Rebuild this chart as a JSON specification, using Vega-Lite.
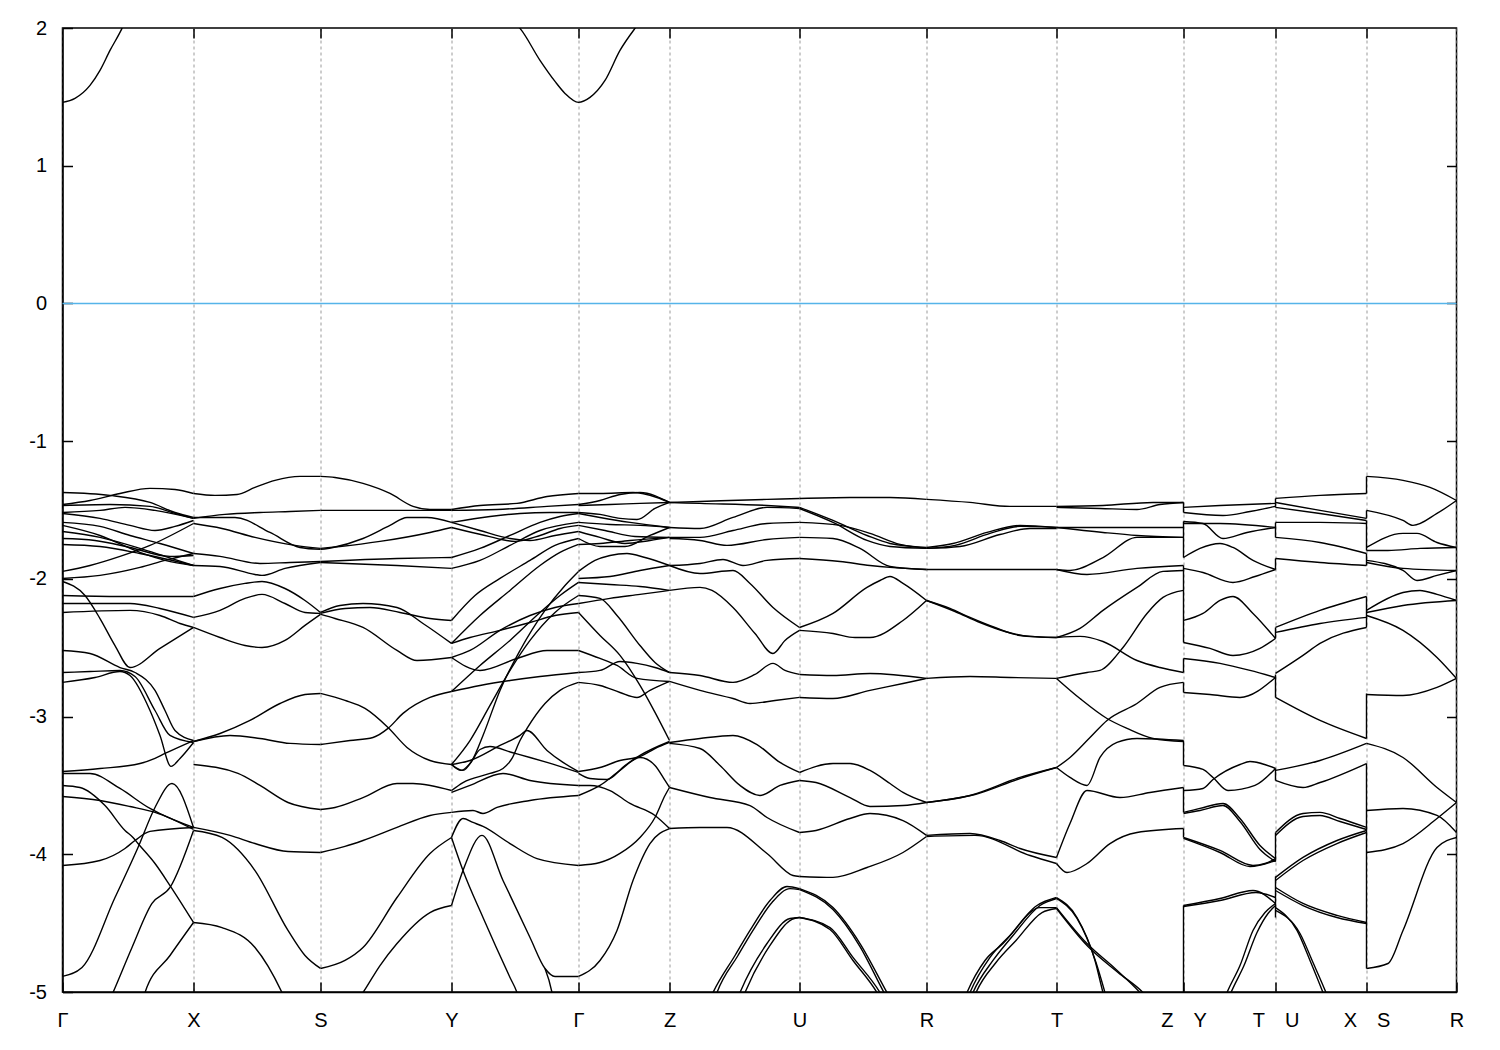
{
"$schema": "https://vega.github.io/schema/vega-lite/v6.json",
"width": 1394, "height": 964,
"autosize": {"type": "none"},
"padding": {"left": 62.5, "top": 28, "right": 43.5, "bottom": 58},
"background": "white",
"config": {"view": {"stroke": "black", "strokeWidth": 1.5}},
"datasets": {
"bands": [
{"s":"c1","k":0,"E":1.46},{"s":"c1","k":0.125,"E":1.489},{"s":"c1","k":0.275,"E":1.583},{"s":"c1","k":0.375,"E":1.692},{"s":"c1","k":0.475,"E":1.837},{"s":"c1","k":0.595,"E":1.997},{"s":"c1","k":0.675,"E":2.13},
{"s":"c2","k":4.425,"E":2.09},{"s":"c2","k":4.575,"E":1.997},{"s":"c2","k":4.775,"E":1.765},{"s":"c2","k":4.925,"E":1.612},{"s":"c2","k":5.025,"E":1.525},{"s":"c2","k":5.16,"E":1.46},{"s":"c2","k":5.275,"E":1.496},{"s":"c2","k":5.425,"E":1.619},{"s":"c2","k":5.575,"E":1.837},{"s":"c2","k":5.725,"E":1.997},{"s":"c2","k":5.875,"E":2.13},
{"s":"1a","k":0,"E":-1.373},{"s":"1a","k":0.475,"E":-1.394},{"s":"1a","k":0.875,"E":-1.445},{"s":"1a","k":1.125,"E":-1.518},{"s":"1a","k":1.31,"E":-1.554},
{"s":"1b","k":0,"E":-1.46},{"s":"1b","k":0.275,"E":-1.431},{"s":"1b","k":0.575,"E":-1.38},{"s":"1b","k":0.875,"E":-1.343},{"s":"1b","k":1.125,"E":-1.351},{"s":"1b","k":1.31,"E":-1.38},
{"s":"1c","k":0,"E":-1.467},{"s":"1c","k":0.475,"E":-1.46},{"s":"1c","k":0.875,"E":-1.474},{"s":"1c","k":1.125,"E":-1.525},{"s":"1c","k":1.31,"E":-1.561},
{"s":"1d","k":0,"E":-1.518},{"s":"1d","k":0.375,"E":-1.503},{"s":"1d","k":0.625,"E":-1.481},{"s":"1d","k":0.925,"E":-1.503},{"s":"1d","k":1.31,"E":-1.561},
{"s":"1e","k":0,"E":-1.525},{"s":"1e","k":0.375,"E":-1.561},{"s":"1e","k":0.675,"E":-1.612},{"s":"1e","k":0.925,"E":-1.649},{"s":"1e","k":1.125,"E":-1.619},{"s":"1e","k":1.31,"E":-1.576},
{"s":"1f","k":0,"E":-1.59},{"s":"1f","k":0.375,"E":-1.619},{"s":"1f","k":0.675,"E":-1.685},{"s":"1f","k":0.975,"E":-1.743},{"s":"1f","k":1.31,"E":-1.816},
{"s":"1g","k":0,"E":-1.612},{"s":"1g","k":0.375,"E":-1.685},{"s":"1g","k":0.775,"E":-1.808},{"s":"1g","k":1.025,"E":-1.866},{"s":"1g","k":1.31,"E":-1.903},
{"s":"1h","k":0,"E":-1.946},{"s":"1h","k":0.275,"E":-1.903},{"s":"1h","k":0.575,"E":-1.837},{"s":"1h","k":0.875,"E":-1.757},{"s":"1h","k":1.31,"E":-1.598},
{"s":"1i","k":0,"E":-1.997},{"s":"1i","k":0.375,"E":-1.975},{"s":"1i","k":0.775,"E":-1.917},{"s":"1i","k":1.025,"E":-1.866},{"s":"1i","k":1.31,"E":-1.816},
{"s":"1j","k":0,"E":-2.019},{"s":"1j","k":0.225,"E":-2.121},{"s":"1j","k":0.375,"E":-2.288},{"s":"1j","k":0.525,"E":-2.484},{"s":"1j","k":0.675,"E":-2.644},{"s":"1j","k":0.975,"E":-2.505},{"s":"1j","k":1.31,"E":-2.353},
{"s":"1k","k":0,"E":-2.121},{"s":"1k","k":0.575,"E":-2.128},{"s":"1k","k":1.31,"E":-2.128},
{"s":"1l","k":0,"E":-2.179},{"s":"1l","k":0.675,"E":-2.179},{"s":"1l","k":0.975,"E":-2.215},{"s":"1l","k":1.31,"E":-2.28},
{"s":"1m","k":0,"E":-2.244},{"s":"1m","k":0.675,"E":-2.229},{"s":"1m","k":0.975,"E":-2.266},{"s":"1m","k":1.175,"E":-2.324},{"s":"1m","k":1.31,"E":-2.353},
{"s":"1n","k":0,"E":-1.656},{"s":"1n","k":0.375,"E":-1.699},{"s":"1n","k":0.775,"E":-1.779},{"s":"1n","k":1.025,"E":-1.837},{"s":"1n","k":1.31,"E":-1.903},
{"s":"1o","k":0,"E":-1.707},{"s":"1o","k":0.325,"E":-1.721},{"s":"1o","k":0.675,"E":-1.772},{"s":"1o","k":1.075,"E":-1.837},{"s":"1o","k":1.31,"E":-1.83},
{"s":"1p","k":0,"E":-1.75},{"s":"1p","k":0.375,"E":-1.765},{"s":"1p","k":0.775,"E":-1.816},{"s":"1p","k":1.31,"E":-1.903},
{"s":"1q","k":0,"E":-2.52},{"s":"1q","k":0.275,"E":-2.542},{"s":"1q","k":0.575,"E":-2.644},{"s":"1q","k":0.725,"E":-2.68},{"s":"1q","k":0.925,"E":-2.81},{"s":"1q","k":1.025,"E":-2.956},{"s":"1q","k":1.125,"E":-3.101},{"s":"1q","k":1.31,"E":-3.174},
{"s":"1r","k":0,"E":-2.68},{"s":"1r","k":0.275,"E":-2.673},{"s":"1r","k":0.575,"E":-2.665},{"s":"1r","k":0.725,"E":-2.709},{"s":"1r","k":0.925,"E":-2.956},{"s":"1r","k":1.075,"E":-3.137},{"s":"1r","k":1.31,"E":-3.188},
{"s":"1s","k":0,"E":-2.752},{"s":"1s","k":0.325,"E":-2.716},{"s":"1s","k":0.575,"E":-2.673},{"s":"1s","k":0.675,"E":-2.702},{"s":"1s","k":0.875,"E":-2.956},{"s":"1s","k":0.975,"E":-3.137},{"s":"1s","k":1.085,"E":-3.362},{"s":"1s","k":1.175,"E":-3.304},{"s":"1s","k":1.31,"E":-3.188},
{"s":"1t","k":0,"E":-3.399},{"s":"1t","k":0.375,"E":-3.377},{"s":"1t","k":0.775,"E":-3.341},{"s":"1t","k":0.925,"E":-3.304},{"s":"1t","k":1.025,"E":-3.268},{"s":"1t","k":1.31,"E":-3.174},
{"s":"1u","k":0,"E":-3.413},{"s":"1u","k":0.275,"E":-3.413},{"s":"1u","k":0.575,"E":-3.522},{"s":"1u","k":0.875,"E":-3.667},{"s":"1u","k":0.975,"E":-3.704},{"s":"1u","k":1.31,"E":-3.805},
{"s":"1v","k":0,"E":-3.5},{"s":"1v","k":0.175,"E":-3.515},{"s":"1v","k":0.425,"E":-3.646},{"s":"1v","k":0.625,"E":-3.827},{"s":"1v","k":0.705,"E":-3.878},{"s":"1v","k":0.755,"E":-3.922},{"s":"1v","k":0.925,"E":-4.067},{"s":"1v","k":1.075,"E":-4.227},{"s":"1v","k":1.31,"E":-4.495},
{"s":"1w","k":0,"E":-3.58},{"s":"1w","k":0.375,"E":-3.609},{"s":"1w","k":0.675,"E":-3.653},{"s":"1w","k":0.925,"E":-3.696},{"s":"1w","k":1.31,"E":-3.82},
{"s":"1x","k":0,"E":-4.081},{"s":"1x","k":0.375,"E":-4.045},{"s":"1x","k":0.625,"E":-3.958},{"s":"1x","k":0.725,"E":-3.9},{"s":"1x","k":0.875,"E":-3.834},{"s":"1x","k":1.31,"E":-3.805},
{"s":"1y","k":0,"E":-4.887},{"s":"1y","k":0.195,"E":-4.822},{"s":"1y","k":0.525,"E":-4.314},{"s":"1y","k":0.755,"E":-3.951},{"s":"1y","k":0.925,"E":-3.66},{"s":"1y","k":1.095,"E":-3.486},{"s":"1y","k":1.31,"E":-3.805},
{"s":"1z","k":0.425,"E":-5.134},{"s":"1z","k":0.505,"E":-5.004},{"s":"1z","k":0.695,"E":-4.677},{"s":"1z","k":0.895,"E":-4.357},{"s":"1z","k":1.075,"E":-4.241},{"s":"1z","k":1.31,"E":-3.827},
{"s":"1A","k":0.775,"E":-5.134},{"s":"1A","k":0.825,"E":-5.004},{"s":"1A","k":1.075,"E":-4.735},{"s":"1A","k":1.31,"E":-4.495},
{"s":"2a","k":1.31,"E":-1.38},{"s":"2a","k":1.525,"E":-1.394},{"s":"2a","k":1.745,"E":-1.387},{"s":"2a","k":1.925,"E":-1.336},{"s":"2a","k":2.125,"E":-1.285},{"s":"2a","k":2.375,"E":-1.256},{"s":"2a","k":2.58,"E":-1.256},
{"s":"2b","k":1.31,"E":-1.561},{"s":"2b","k":1.625,"E":-1.532},{"s":"2b","k":1.975,"E":-1.518},{"s":"2b","k":2.275,"E":-1.511},{"s":"2b","k":2.58,"E":-1.503},
{"s":"2c","k":1.31,"E":-1.554},{"s":"2c","k":1.725,"E":-1.554},{"s":"2c","k":2.075,"E":-1.663},{"s":"2c","k":2.375,"E":-1.772},{"s":"2c","k":2.58,"E":-1.786},
{"s":"2d","k":1.31,"E":-1.598},{"s":"2d","k":1.595,"E":-1.634},{"s":"2d","k":1.925,"E":-1.699},{"s":"2d","k":2.325,"E":-1.757},{"s":"2d","k":2.58,"E":-1.779},
{"s":"2e","k":1.31,"E":-1.816},{"s":"2e","k":1.575,"E":-1.837},{"s":"2e","k":1.975,"E":-1.888},{"s":"2e","k":2.275,"E":-1.881},{"s":"2e","k":2.58,"E":-1.874},
{"s":"2f","k":1.31,"E":-1.903},{"s":"2f","k":1.575,"E":-1.91},{"s":"2f","k":1.925,"E":-1.968},{"s":"2f","k":1.995,"E":-1.975},{"s":"2f","k":2.225,"E":-1.924},{"s":"2f","k":2.58,"E":-1.881},
{"s":"2g","k":1.31,"E":-2.128},{"s":"2g","k":1.575,"E":-2.07},{"s":"2g","k":1.825,"E":-2.033},{"s":"2g","k":1.995,"E":-2.019},{"s":"2g","k":2.225,"E":-2.07},{"s":"2g","k":2.425,"E":-2.157},{"s":"2g","k":2.58,"E":-2.244},
{"s":"2h","k":1.31,"E":-2.28},{"s":"2h","k":1.575,"E":-2.229},{"s":"2h","k":1.825,"E":-2.142},{"s":"2h","k":1.995,"E":-2.113},{"s":"2h","k":2.225,"E":-2.179},{"s":"2h","k":2.425,"E":-2.244},{"s":"2h","k":2.58,"E":-2.251},
{"s":"2i","k":1.31,"E":-2.353},{"s":"2i","k":1.575,"E":-2.426},{"s":"2i","k":1.825,"E":-2.484},{"s":"2i","k":1.995,"E":-2.498},{"s":"2i","k":2.225,"E":-2.447},{"s":"2i","k":2.425,"E":-2.338},{"s":"2i","k":2.58,"E":-2.258},
{"s":"2j","k":1.31,"E":-3.181},{"s":"2j","k":1.575,"E":-3.123},{"s":"2j","k":1.875,"E":-3.028},{"s":"2j","k":2.175,"E":-2.905},{"s":"2j","k":2.425,"E":-2.84},{"s":"2j","k":2.58,"E":-2.832},
{"s":"2k","k":1.31,"E":-3.181},{"s":"2k","k":1.675,"E":-3.137},{"s":"2k","k":1.975,"E":-3.159},{"s":"2k","k":2.275,"E":-3.195},{"s":"2k","k":2.58,"E":-3.203},
{"s":"2l","k":1.31,"E":-3.348},{"s":"2l","k":1.755,"E":-3.413},{"s":"2l","k":1.975,"E":-3.5},{"s":"2l","k":2.255,"E":-3.624},{"s":"2l","k":2.58,"E":-3.675},
{"s":"2m","k":1.31,"E":-3.805},{"s":"2m","k":1.675,"E":-3.863},{"s":"2m","k":1.925,"E":-3.922},{"s":"2m","k":2.255,"E":-3.98},{"s":"2m","k":2.58,"E":-3.987},
{"s":"2n","k":1.31,"E":-3.827},{"s":"2n","k":1.595,"E":-3.878},{"s":"2n","k":1.925,"E":-4.118},{"s":"2n","k":2.255,"E":-4.553},{"s":"2n","k":2.425,"E":-4.735},{"s":"2n","k":2.58,"E":-4.829},
{"s":"2o","k":1.31,"E":-4.495},{"s":"2o","k":1.595,"E":-4.532},{"s":"2o","k":1.925,"E":-4.677},{"s":"2o","k":2.195,"E":-5.004},{"s":"2o","k":2.275,"E":-5.134},
{"s":"3a","k":2.58,"E":-1.256},{"s":"3a","k":2.725,"E":-1.264},{"s":"3a","k":3.005,"E":-1.307},{"s":"3a","k":3.275,"E":-1.38},{"s":"3a","k":3.505,"E":-1.474},{"s":"3a","k":3.675,"E":-1.496},{"s":"3a","k":3.89,"E":-1.496},
{"s":"3b","k":2.58,"E":-1.503},{"s":"3b","k":2.975,"E":-1.503},{"s":"3b","k":3.375,"E":-1.503},{"s":"3b","k":3.89,"E":-1.503},
{"s":"3c","k":2.58,"E":-1.786},{"s":"3c","k":2.705,"E":-1.772},{"s":"3c","k":3.005,"E":-1.707},{"s":"3c","k":3.275,"E":-1.612},{"s":"3c","k":3.445,"E":-1.554},{"s":"3c","k":3.645,"E":-1.554},{"s":"3c","k":3.89,"E":-1.59},
{"s":"3d","k":2.58,"E":-1.779},{"s":"3d","k":2.775,"E":-1.765},{"s":"3d","k":3.175,"E":-1.728},{"s":"3d","k":3.675,"E":-1.663},{"s":"3d","k":3.89,"E":-1.627},
{"s":"3e","k":2.58,"E":-1.874},{"s":"3e","k":3.345,"E":-1.852},{"s":"3e","k":3.89,"E":-1.845},
{"s":"3f","k":2.58,"E":-1.881},{"s":"3f","k":3.345,"E":-1.903},{"s":"3f","k":3.89,"E":-1.924},
{"s":"3g","k":2.58,"E":-2.251},{"s":"3g","k":2.825,"E":-2.215},{"s":"3g","k":3.075,"E":-2.208},{"s":"3g","k":3.375,"E":-2.244},{"s":"3g","k":3.675,"E":-2.288},{"s":"3g","k":3.89,"E":-2.302},
{"s":"3h","k":2.58,"E":-2.244},{"s":"3h","k":2.775,"E":-2.193},{"s":"3h","k":3.005,"E":-2.179},{"s":"3h","k":3.345,"E":-2.208},{"s":"3h","k":3.605,"E":-2.324},{"s":"3h","k":3.89,"E":-2.469},
{"s":"3i","k":2.58,"E":-2.258},{"s":"3i","k":2.725,"E":-2.288},{"s":"3i","k":3.005,"E":-2.353},{"s":"3i","k":3.345,"E":-2.52},{"s":"3i","k":3.545,"E":-2.593},{"s":"3i","k":3.89,"E":-2.571},
{"s":"3j","k":2.58,"E":-2.832},{"s":"3j","k":2.825,"E":-2.883},{"s":"3j","k":3.025,"E":-2.941},{"s":"3j","k":3.255,"E":-3.079},{"s":"3j","k":3.445,"E":-3.224},{"s":"3j","k":3.675,"E":-3.319},{"s":"3j","k":3.89,"E":-3.348},
{"s":"3k","k":2.58,"E":-3.203},{"s":"3k","k":2.875,"E":-3.174},{"s":"3k","k":3.105,"E":-3.152},{"s":"3k","k":3.255,"E":-3.086},{"s":"3k","k":3.405,"E":-2.977},{"s":"3k","k":3.675,"E":-2.861},{"s":"3k","k":3.89,"E":-2.818},
{"s":"3l","k":2.58,"E":-3.675},{"s":"3l","k":2.725,"E":-3.66},{"s":"3l","k":3.005,"E":-3.588},{"s":"3l","k":3.345,"E":-3.486},{"s":"3l","k":3.505,"E":-3.486},{"s":"3l","k":3.89,"E":-3.537},
{"s":"3m","k":2.58,"E":-3.987},{"s":"3m","k":2.825,"E":-3.943},{"s":"3m","k":3.005,"E":-3.9},{"s":"3m","k":3.345,"E":-3.805},{"s":"3m","k":3.675,"E":-3.718},{"s":"3m","k":3.89,"E":-3.696},
{"s":"3n","k":2.58,"E":-4.829},{"s":"3n","k":2.825,"E":-4.771},{"s":"3n","k":3.005,"E":-4.677},{"s":"3n","k":3.345,"E":-4.314},{"s":"3n","k":3.675,"E":-3.994},{"s":"3n","k":3.89,"E":-3.878},
{"s":"3o","k":2.875,"E":-5.134},{"s":"3o","k":3.005,"E":-5.004},{"s":"3o","k":3.175,"E":-4.808},{"s":"3o","k":3.345,"E":-4.648},{"s":"3o","k":3.675,"E":-4.423},{"s":"3o","k":3.89,"E":-4.372},
{"s":"4a","k":3.89,"E":-1.496},{"s":"4a","k":4.175,"E":-1.467},{"s":"4a","k":4.545,"E":-1.452},{"s":"4a","k":4.845,"E":-1.402},{"s":"4a","k":5.16,"E":-1.38},
{"s":"4b","k":3.89,"E":-1.503},{"s":"4b","k":4.345,"E":-1.496},{"s":"4b","k":4.845,"E":-1.474},{"s":"4b","k":5.16,"E":-1.46},
{"s":"4c","k":3.89,"E":-1.59},{"s":"4c","k":4.275,"E":-1.547},{"s":"4c","k":4.575,"E":-1.525},{"s":"4c","k":4.875,"E":-1.518},{"s":"4c","k":5.16,"E":-1.518},
{"s":"4d","k":3.89,"E":-1.59},{"s":"4d","k":4.175,"E":-1.649},{"s":"4d","k":4.475,"E":-1.707},{"s":"4d","k":4.675,"E":-1.721},{"s":"4d","k":4.925,"E":-1.685},{"s":"4d","k":5.16,"E":-1.656},
{"s":"4e","k":3.89,"E":-1.627},{"s":"4e","k":4.225,"E":-1.685},{"s":"4e","k":4.525,"E":-1.728},{"s":"4e","k":4.775,"E":-1.685},{"s":"4e","k":4.975,"E":-1.634},{"s":"4e","k":5.16,"E":-1.612},
{"s":"4f","k":3.89,"E":-1.845},{"s":"4f","k":4.175,"E":-1.779},{"s":"4f","k":4.475,"E":-1.685},{"s":"4f","k":4.775,"E":-1.59},{"s":"4f","k":4.975,"E":-1.547},{"s":"4f","k":5.16,"E":-1.525},
{"s":"4g","k":3.89,"E":-1.924},{"s":"4g","k":4.175,"E":-1.866},{"s":"4g","k":4.475,"E":-1.757},{"s":"4g","k":4.775,"E":-1.649},{"s":"4g","k":5.16,"E":-1.59},
{"s":"4h","k":3.89,"E":-2.302},{"s":"4h","k":4.125,"E":-2.121},{"s":"4h","k":4.375,"E":-1.997},{"s":"4h","k":4.675,"E":-1.866},{"s":"4h","k":4.925,"E":-1.757},{"s":"4h","k":5.16,"E":-1.707},
{"s":"4i","k":3.89,"E":-2.469},{"s":"4i","k":4.175,"E":-2.266},{"s":"4i","k":4.475,"E":-2.084},{"s":"4i","k":4.775,"E":-1.903},{"s":"4i","k":4.975,"E":-1.808},{"s":"4i","k":5.16,"E":-1.75},
{"s":"4j","k":3.89,"E":-2.571},{"s":"4j","k":4.175,"E":-2.665},{"s":"4j","k":4.545,"E":-2.578},{"s":"4j","k":4.845,"E":-2.52},{"s":"4j","k":5.16,"E":-2.52},
{"s":"4k","k":3.89,"E":-2.818},{"s":"4k","k":4.175,"E":-2.629},{"s":"4k","k":4.475,"E":-2.447},{"s":"4k","k":4.775,"E":-2.244},{"s":"4k","k":4.975,"E":-2.121},{"s":"4k","k":5.16,"E":-2.026},
{"s":"4l","k":3.89,"E":-3.348},{"s":"4l","k":4.005,"E":-3.391},{"s":"4l","k":4.095,"E":-3.319},{"s":"4l","k":4.205,"E":-3.137},{"s":"4l","k":4.375,"E":-2.81},{"s":"4l","k":4.575,"E":-2.52},{"s":"4l","k":4.825,"E":-2.229},{"s":"4l","k":5.025,"E":-2.048},{"s":"4l","k":5.16,"E":-1.946},
{"s":"4m","k":3.89,"E":-3.348},{"s":"4m","k":3.985,"E":-3.391},{"s":"4m","k":4.075,"E":-3.341},{"s":"4m","k":4.175,"E":-3.239},{"s":"4m","k":4.275,"E":-3.217},{"s":"4m","k":4.495,"E":-3.261},{"s":"4m","k":4.675,"E":-3.297},{"s":"4m","k":4.845,"E":-3.333},{"s":"4m","k":5.16,"E":-3.406},
{"s":"4n","k":3.89,"E":-3.696},{"s":"4n","k":4.105,"E":-3.682},{"s":"4n","k":4.205,"E":-3.704},{"s":"4n","k":4.345,"E":-3.66},{"s":"4n","k":4.675,"E":-3.609},{"s":"4n","k":5.16,"E":-3.573},
{"s":"4o","k":3.89,"E":-3.537},{"s":"4o","k":4.005,"E":-3.479},{"s":"4o","k":4.275,"E":-3.413},{"s":"4o","k":4.405,"E":-3.377},{"s":"4o","k":4.495,"E":-3.304},{"s":"4o","k":4.575,"E":-3.174},{"s":"4o","k":4.645,"E":-3.086},{"s":"4o","k":4.825,"E":-2.905},{"s":"4o","k":4.975,"E":-2.81},{"s":"4o","k":5.16,"E":-2.752},
{"s":"4p","k":3.89,"E":-3.348},{"s":"4p","k":4.075,"E":-3.319},{"s":"4p","k":4.375,"E":-3.21},{"s":"4p","k":4.575,"E":-3.137},{"s":"4p","k":4.645,"E":-3.101},{"s":"4p","k":4.845,"E":-3.246},{"s":"4p","k":5.005,"E":-3.333},{"s":"4p","k":5.16,"E":-3.399},
{"s":"4q","k":3.89,"E":-3.551},{"s":"4q","k":4.075,"E":-3.5},{"s":"4q","k":4.405,"E":-3.413},{"s":"4q","k":4.675,"E":-3.464},{"s":"4q","k":5.16,"E":-3.5},
{"s":"4r","k":3.89,"E":-3.878},{"s":"4r","k":4.005,"E":-3.74},{"s":"4r","k":4.105,"E":-3.769},{"s":"4r","k":4.205,"E":-3.798},{"s":"4r","k":4.475,"E":-3.922},{"s":"4r","k":4.745,"E":-4.031},{"s":"4r","k":5.16,"E":-4.081},
{"s":"4s","k":3.89,"E":-3.878},{"s":"4s","k":4.005,"E":-4.118},{"s":"4s","k":4.205,"E":-4.459},{"s":"4s","k":4.475,"E":-4.895},{"s":"4s","k":4.545,"E":-5.004},{"s":"4s","k":4.595,"E":-5.134},
{"s":"4t","k":3.89,"E":-4.372},{"s":"4t","k":4.005,"E":-4.118},{"s":"4t","k":4.195,"E":-3.863},{"s":"4t","k":4.405,"E":-4.19},{"s":"4t","k":4.675,"E":-4.604},{"s":"4t","k":4.825,"E":-4.829},{"s":"4t","k":4.925,"E":-4.887},{"s":"4t","k":5.16,"E":-4.887},
{"s":"4u","k":4.825,"E":-4.829},{"s":"4u","k":4.895,"E":-5.004},{"s":"4u","k":4.925,"E":-5.134},
{"s":"4v","k":3.89,"E":-2.818},{"s":"4v","k":4.175,"E":-2.774},{"s":"4v","k":4.475,"E":-2.738},{"s":"4v","k":4.775,"E":-2.709},{"s":"4v","k":5.16,"E":-2.68},
{"s":"4w","k":3.89,"E":-2.469},{"s":"4w","k":4.075,"E":-2.426},{"s":"4w","k":4.375,"E":-2.374},{"s":"4w","k":4.675,"E":-2.317},{"s":"4w","k":4.925,"E":-2.266},{"s":"4w","k":5.16,"E":-2.244},
{"s":"4x","k":3.89,"E":-2.571},{"s":"4x","k":4.075,"E":-2.52},{"s":"4x","k":4.375,"E":-2.374},{"s":"4x","k":4.675,"E":-2.266},{"s":"4x","k":4.925,"E":-2.208},{"s":"4x","k":5.16,"E":-2.179},
{"s":"4y","k":3.89,"E":-3.348},{"s":"4y","k":4.075,"E":-3.174},{"s":"4y","k":4.275,"E":-2.919},{"s":"4y","k":4.475,"E":-2.665},{"s":"4y","k":4.675,"E":-2.447},{"s":"4y","k":4.925,"E":-2.244},{"s":"4y","k":5.16,"E":-2.121},
{"s":"5a","k":5.16,"E":-1.38},{"s":"5a","k":5.375,"E":-1.38},{"s":"5a","k":5.705,"E":-1.373},{"s":"5a","k":5.945,"E":-1.409},{"s":"5a","k":6.07,"E":-1.445},
{"s":"5b","k":5.16,"E":-1.46},{"s":"5b","k":5.375,"E":-1.431},{"s":"5b","k":5.575,"E":-1.387},{"s":"5b","k":5.775,"E":-1.373},{"s":"5b","k":6.07,"E":-1.445},
{"s":"5c","k":5.16,"E":-1.467},{"s":"5c","k":5.475,"E":-1.46},{"s":"5c","k":5.775,"E":-1.452},{"s":"5c","k":6.07,"E":-1.445},
{"s":"5d","k":5.16,"E":-1.518},{"s":"5d","k":5.375,"E":-1.532},{"s":"5d","k":5.575,"E":-1.561},{"s":"5d","k":5.745,"E":-1.569},{"s":"5d","k":5.925,"E":-1.489},{"s":"5d","k":6.07,"E":-1.445},
{"s":"5e","k":5.16,"E":-1.525},{"s":"5e","k":5.375,"E":-1.554},{"s":"5e","k":5.675,"E":-1.59},{"s":"5e","k":6.07,"E":-1.627},
{"s":"5f","k":5.16,"E":-1.59},{"s":"5f","k":5.475,"E":-1.605},{"s":"5f","k":5.775,"E":-1.612},{"s":"5f","k":6.07,"E":-1.627},
{"s":"5g","k":5.16,"E":-1.612},{"s":"5g","k":5.425,"E":-1.649},{"s":"5g","k":5.725,"E":-1.692},{"s":"5g","k":6.07,"E":-1.699},
{"s":"5h","k":5.16,"E":-1.656},{"s":"5h","k":5.375,"E":-1.699},{"s":"5h","k":5.625,"E":-1.743},{"s":"5h","k":5.875,"E":-1.721},{"s":"5h","k":6.07,"E":-1.699},
{"s":"5i","k":5.16,"E":-1.707},{"s":"5i","k":5.375,"E":-1.765},{"s":"5i","k":5.625,"E":-1.765},{"s":"5i","k":5.875,"E":-1.685},{"s":"5i","k":6.07,"E":-1.627},
{"s":"5j","k":5.16,"E":-1.75},{"s":"5j","k":5.375,"E":-1.743},{"s":"5j","k":5.675,"E":-1.721},{"s":"5j","k":6.07,"E":-1.699},
{"s":"5k","k":5.16,"E":-1.946},{"s":"5k","k":5.325,"E":-1.866},{"s":"5k","k":5.475,"E":-1.83},{"s":"5k","k":5.645,"E":-1.816},{"s":"5k","k":5.825,"E":-1.845},{"s":"5k","k":6.07,"E":-1.903},
{"s":"5l","k":5.16,"E":-1.997},{"s":"5l","k":5.475,"E":-1.983},{"s":"5l","k":5.775,"E":-1.939},{"s":"5l","k":6.07,"E":-1.903},
{"s":"5m","k":5.16,"E":-2.026},{"s":"5m","k":5.475,"E":-2.041},{"s":"5m","k":5.775,"E":-2.055},{"s":"5m","k":6.07,"E":-2.084},
{"s":"5n","k":5.16,"E":-2.121},{"s":"5n","k":5.375,"E":-2.142},{"s":"5n","k":5.545,"E":-2.266},{"s":"5n","k":5.775,"E":-2.484},{"s":"5n","k":5.925,"E":-2.607},{"s":"5n","k":6.07,"E":-2.68},
{"s":"5o","k":5.16,"E":-2.179},{"s":"5o","k":5.475,"E":-2.142},{"s":"5o","k":5.775,"E":-2.113},{"s":"5o","k":6.07,"E":-2.084},
{"s":"5p","k":5.16,"E":-2.244},{"s":"5p","k":5.375,"E":-2.411},{"s":"5p","k":5.575,"E":-2.556},{"s":"5p","k":5.775,"E":-2.774},{"s":"5p","k":5.925,"E":-2.97},{"s":"5p","k":6.07,"E":-3.174},
{"s":"5q","k":5.16,"E":-2.52},{"s":"5q","k":5.375,"E":-2.578},{"s":"5q","k":5.545,"E":-2.629},{"s":"5q","k":5.745,"E":-2.723},{"s":"5q","k":6.07,"E":-2.745},
{"s":"5r","k":5.16,"E":-2.68},{"s":"5r","k":5.375,"E":-2.665},{"s":"5r","k":5.575,"E":-2.6},{"s":"5r","k":5.745,"E":-2.614},{"s":"5r","k":5.925,"E":-2.644},{"s":"5r","k":6.07,"E":-2.68},
{"s":"5s","k":5.16,"E":-2.752},{"s":"5s","k":5.375,"E":-2.774},{"s":"5s","k":5.575,"E":-2.825},{"s":"5s","k":5.745,"E":-2.861},{"s":"5s","k":5.875,"E":-2.81},{"s":"5s","k":6.07,"E":-2.745},
{"s":"5t","k":5.16,"E":-3.399},{"s":"5t","k":5.375,"E":-3.37},{"s":"5t","k":5.575,"E":-3.319},{"s":"5t","k":5.775,"E":-3.29},{"s":"5t","k":5.925,"E":-3.232},{"s":"5t","k":6.07,"E":-3.188},
{"s":"5u","k":5.16,"E":-3.413},{"s":"5u","k":5.275,"E":-3.45},{"s":"5u","k":5.445,"E":-3.457},{"s":"5u","k":5.625,"E":-3.355},{"s":"5u","k":5.775,"E":-3.282},{"s":"5u","k":6.07,"E":-3.181},
{"s":"5v","k":5.16,"E":-3.5},{"s":"5v","k":5.275,"E":-3.5},{"s":"5v","k":5.475,"E":-3.537},{"s":"5v","k":5.675,"E":-3.631},{"s":"5v","k":5.925,"E":-3.718},{"s":"5v","k":6.07,"E":-3.813},
{"s":"5w","k":5.16,"E":-3.573},{"s":"5w","k":5.375,"E":-3.5},{"s":"5w","k":5.575,"E":-3.391},{"s":"5w","k":5.775,"E":-3.297},{"s":"5w","k":5.925,"E":-3.355},{"s":"5w","k":6.025,"E":-3.464},{"s":"5w","k":6.07,"E":-3.515},
{"s":"5x","k":5.16,"E":-4.081},{"s":"5x","k":5.375,"E":-4.06},{"s":"5x","k":5.575,"E":-3.994},{"s":"5x","k":5.775,"E":-3.878},{"s":"5x","k":5.925,"E":-3.733},{"s":"5x","k":6.025,"E":-3.573},{"s":"5x","k":6.07,"E":-3.515},
{"s":"5y","k":5.16,"E":-4.887},{"s":"5y","k":5.375,"E":-4.771},{"s":"5y","k":5.545,"E":-4.553},{"s":"5y","k":5.705,"E":-4.19},{"s":"5y","k":5.875,"E":-3.922},{"s":"5y","k":6.07,"E":-3.813},
{"s":"6a","k":6.07,"E":-1.445},{"s":"6a","k":6.375,"E":-1.438},{"s":"6a","k":7.045,"E":-1.423},{"s":"6a","k":7.37,"E":-1.416},
{"s":"6b","k":6.07,"E":-1.445},{"s":"6b","k":6.375,"E":-1.452},{"s":"6b","k":7.045,"E":-1.467},{"s":"6b","k":7.37,"E":-1.481},
{"s":"6c","k":6.07,"E":-1.627},{"s":"6c","k":6.375,"E":-1.634},{"s":"6c","k":6.705,"E":-1.554},{"s":"6c","k":7.045,"E":-1.481},{"s":"6c","k":7.37,"E":-1.489},
{"s":"6d","k":6.07,"E":-1.699},{"s":"6d","k":6.375,"E":-1.699},{"s":"6d","k":6.705,"E":-1.649},{"s":"6d","k":7.045,"E":-1.598},{"s":"6d","k":7.37,"E":-1.59},
{"s":"6e","k":6.07,"E":-1.707},{"s":"6e","k":6.375,"E":-1.721},{"s":"6e","k":6.645,"E":-1.757},{"s":"6e","k":7.045,"E":-1.714},{"s":"6e","k":7.37,"E":-1.699},
{"s":"6f","k":6.07,"E":-1.903},{"s":"6f","k":6.375,"E":-1.888},{"s":"6f","k":6.605,"E":-1.859},{"s":"6f","k":6.805,"E":-1.903},{"s":"6f","k":7.045,"E":-1.866},{"s":"6f","k":7.37,"E":-1.852},
{"s":"6g","k":6.07,"E":-1.903},{"s":"6g","k":6.375,"E":-1.961},{"s":"6g","k":6.705,"E":-1.939},{"s":"6g","k":6.875,"E":-2.033},{"s":"6g","k":7.105,"E":-2.208},{"s":"6g","k":7.37,"E":-2.353},
{"s":"6h","k":6.07,"E":-2.084},{"s":"6h","k":6.375,"E":-2.062},{"s":"6h","k":6.495,"E":-2.084},{"s":"6h","k":6.705,"E":-2.208},{"s":"6h","k":6.925,"E":-2.397},{"s":"6h","k":7.105,"E":-2.542},{"s":"6h","k":7.225,"E":-2.447},{"s":"6h","k":7.37,"E":-2.374},
{"s":"6i","k":6.07,"E":-2.68},{"s":"6i","k":6.375,"E":-2.702},{"s":"6i","k":6.705,"E":-2.752},{"s":"6i","k":6.925,"E":-2.694},{"s":"6i","k":7.105,"E":-2.614},{"s":"6i","k":7.225,"E":-2.665},{"s":"6i","k":7.37,"E":-2.694},
{"s":"6j","k":6.07,"E":-2.745},{"s":"6j","k":6.375,"E":-2.81},{"s":"6j","k":6.705,"E":-2.869},{"s":"6j","k":6.875,"E":-2.905},{"s":"6j","k":7.125,"E":-2.883},{"s":"6j","k":7.37,"E":-2.861},
{"s":"6k","k":6.07,"E":-3.188},{"s":"6k","k":6.375,"E":-3.159},{"s":"6k","k":6.705,"E":-3.137},{"s":"6k","k":6.945,"E":-3.203},{"s":"6k","k":7.175,"E":-3.333},{"s":"6k","k":7.37,"E":-3.406},
{"s":"6l","k":6.07,"E":-3.195},{"s":"6l","k":6.375,"E":-3.232},{"s":"6l","k":6.575,"E":-3.355},{"s":"6l","k":6.775,"E":-3.5},{"s":"6l","k":6.975,"E":-3.573},{"s":"6l","k":7.175,"E":-3.5},{"s":"6l","k":7.37,"E":-3.464},
{"s":"6m","k":6.07,"E":-3.515},{"s":"6m","k":6.475,"E":-3.588},{"s":"6m","k":6.875,"E":-3.646},{"s":"6m","k":7.045,"E":-3.733},{"s":"6m","k":7.37,"E":-3.842},
{"s":"6n","k":6.07,"E":-3.813},{"s":"6n","k":6.375,"E":-3.805},{"s":"6n","k":6.645,"E":-3.805},{"s":"6n","k":7.045,"E":-3.994},{"s":"6n","k":7.305,"E":-4.154},{"s":"6n","k":7.37,"E":-4.161},
{"s":"6o","k":6.425,"E":-5.134},{"s":"6o","k":6.505,"E":-5.004},{"s":"6o","k":6.725,"E":-4.735},{"s":"6o","k":6.875,"E":-4.553},{"s":"6o","k":7.075,"E":-4.336},{"s":"6o","k":7.245,"E":-4.234},{"s":"6o","k":7.37,"E":-4.249},
{"s":"6p","k":6.485,"E":-5.134},{"s":"6p","k":6.545,"E":-5.004},{"s":"6p","k":6.755,"E":-4.735},{"s":"6p","k":6.905,"E":-4.553},{"s":"6p","k":7.095,"E":-4.35},{"s":"6p","k":7.275,"E":-4.249},{"s":"6p","k":7.37,"E":-4.256},
{"s":"6q","k":6.705,"E":-5.134},{"s":"6q","k":6.775,"E":-5.004},{"s":"6q","k":7.045,"E":-4.648},{"s":"6q","k":7.275,"E":-4.466},{"s":"6q","k":7.37,"E":-4.459},
{"s":"6r","k":6.755,"E":-5.134},{"s":"6r","k":6.825,"E":-5.004},{"s":"6r","k":7.075,"E":-4.662},{"s":"6r","k":7.295,"E":-4.473},{"s":"6r","k":7.37,"E":-4.459},
{"s":"7a","k":7.37,"E":-1.416},{"s":"7a","k":7.875,"E":-1.409},{"s":"7a","k":8.275,"E":-1.409},{"s":"7a","k":8.64,"E":-1.423},
{"s":"7b","k":7.37,"E":-1.481},{"s":"7b","k":7.705,"E":-1.576},{"s":"7b","k":8.045,"E":-1.685},{"s":"7b","k":8.275,"E":-1.743},{"s":"7b","k":8.64,"E":-1.772},
{"s":"7c","k":7.37,"E":-1.489},{"s":"7c","k":7.705,"E":-1.59},{"s":"7c","k":8.045,"E":-1.721},{"s":"7c","k":8.275,"E":-1.765},{"s":"7c","k":8.64,"E":-1.779},
{"s":"7d","k":7.37,"E":-1.59},{"s":"7d","k":7.775,"E":-1.612},{"s":"7d","k":8.075,"E":-1.67},{"s":"7d","k":8.375,"E":-1.75},{"s":"7d","k":8.64,"E":-1.779},
{"s":"7e","k":7.37,"E":-1.699},{"s":"7e","k":7.705,"E":-1.707},{"s":"7e","k":7.975,"E":-1.779},{"s":"7e","k":8.275,"E":-1.91},{"s":"7e","k":8.64,"E":-1.932},
{"s":"7f","k":7.37,"E":-1.852},{"s":"7f","k":7.775,"E":-1.874},{"s":"7f","k":8.075,"E":-1.903},{"s":"7f","k":8.275,"E":-1.917},{"s":"7f","k":8.64,"E":-1.932},
{"s":"7g","k":7.37,"E":-2.353},{"s":"7g","k":7.705,"E":-2.251},{"s":"7g","k":8.045,"E":-2.062},{"s":"7g","k":8.175,"E":-2.012},{"s":"7g","k":8.275,"E":-1.983},{"s":"7g","k":8.405,"E":-2.033},{"s":"7g","k":8.64,"E":-2.157},
{"s":"7h","k":7.37,"E":-2.374},{"s":"7h","k":7.705,"E":-2.397},{"s":"7h","k":7.925,"E":-2.426},{"s":"7h","k":8.075,"E":-2.426},{"s":"7h","k":8.405,"E":-2.302},{"s":"7h","k":8.64,"E":-2.157},
{"s":"7i","k":7.37,"E":-2.694},{"s":"7i","k":7.705,"E":-2.702},{"s":"7i","k":8.075,"E":-2.687},{"s":"7i","k":8.64,"E":-2.723},
{"s":"7j","k":7.37,"E":-2.861},{"s":"7j","k":7.705,"E":-2.869},{"s":"7j","k":8.075,"E":-2.81},{"s":"7j","k":8.405,"E":-2.76},{"s":"7j","k":8.64,"E":-2.723},
{"s":"7k","k":7.37,"E":-3.406},{"s":"7k","k":7.705,"E":-3.341},{"s":"7k","k":7.875,"E":-3.341},{"s":"7k","k":8.075,"E":-3.391},{"s":"7k","k":8.275,"E":-3.486},{"s":"7k","k":8.405,"E":-3.551},{"s":"7k","k":8.64,"E":-3.624},
{"s":"7l","k":7.37,"E":-3.464},{"s":"7l","k":7.535,"E":-3.479},{"s":"7l","k":7.875,"E":-3.588},{"s":"7l","k":8.075,"E":-3.653},{"s":"7l","k":8.405,"E":-3.646},{"s":"7l","k":8.64,"E":-3.624},
{"s":"7m","k":7.37,"E":-3.842},{"s":"7m","k":7.535,"E":-3.827},{"s":"7m","k":7.875,"E":-3.74},{"s":"7m","k":8.075,"E":-3.704},{"s":"7m","k":8.405,"E":-3.755},{"s":"7m","k":8.64,"E":-3.863},
{"s":"7n","k":7.37,"E":-4.161},{"s":"7n","k":7.705,"E":-4.168},{"s":"7n","k":8.045,"E":-4.096},{"s":"7n","k":8.405,"E":-3.987},{"s":"7n","k":8.64,"E":-3.871},
{"s":"7o","k":7.37,"E":-4.249},{"s":"7o","k":7.705,"E":-4.387},{"s":"7o","k":7.975,"E":-4.648},{"s":"7o","k":8.245,"E":-5.004},{"s":"7o","k":8.345,"E":-5.134},
{"s":"7p","k":7.37,"E":-4.256},{"s":"7p","k":7.705,"E":-4.401},{"s":"7p","k":7.975,"E":-4.67},{"s":"7p","k":8.215,"E":-5.004},{"s":"7p","k":8.315,"E":-5.134},
{"s":"7q","k":7.37,"E":-4.459},{"s":"7q","k":7.675,"E":-4.532},{"s":"7q","k":7.905,"E":-4.749},{"s":"7q","k":8.175,"E":-5.004},{"s":"7q","k":8.275,"E":-5.134},
{"s":"7r","k":7.37,"E":-4.459},{"s":"7r","k":7.675,"E":-4.546},{"s":"7r","k":7.905,"E":-4.771},{"s":"7r","k":8.145,"E":-5.004},{"s":"7r","k":8.245,"E":-5.134},
{"s":"8a","k":8.64,"E":-1.423},{"s":"8a","k":9.075,"E":-1.445},{"s":"8a","k":9.475,"E":-1.474},{"s":"8a","k":9.94,"E":-1.474},
{"s":"8b","k":8.64,"E":-1.772},{"s":"8b","k":8.905,"E":-1.743},{"s":"8b","k":9.245,"E":-1.663},{"s":"8b","k":9.575,"E":-1.612},{"s":"8b","k":9.94,"E":-1.627},
{"s":"8c","k":8.64,"E":-1.779},{"s":"8c","k":8.925,"E":-1.757},{"s":"8c","k":9.275,"E":-1.67},{"s":"8c","k":9.575,"E":-1.619},{"s":"8c","k":9.94,"E":-1.627},
{"s":"8d","k":8.64,"E":-1.779},{"s":"8d","k":8.975,"E":-1.765},{"s":"8d","k":9.375,"E":-1.678},{"s":"8d","k":9.675,"E":-1.634},{"s":"8d","k":9.94,"E":-1.634},
{"s":"8e","k":8.64,"E":-1.932},{"s":"8e","k":9.275,"E":-1.932},{"s":"8e","k":9.94,"E":-1.932},
{"s":"8f","k":8.64,"E":-2.157},{"s":"8f","k":8.875,"E":-2.215},{"s":"8f","k":9.075,"E":-2.28},{"s":"8f","k":9.325,"E":-2.353},{"s":"8f","k":9.575,"E":-2.411},{"s":"8f","k":9.94,"E":-2.426},
{"s":"8g","k":8.64,"E":-2.157},{"s":"8g","k":8.925,"E":-2.237},{"s":"8g","k":9.175,"E":-2.317},{"s":"8g","k":9.425,"E":-2.382},{"s":"8g","k":9.675,"E":-2.418},{"s":"8g","k":9.94,"E":-2.426},
{"s":"8h","k":8.64,"E":-2.723},{"s":"8h","k":9.075,"E":-2.709},{"s":"8h","k":9.475,"E":-2.716},{"s":"8h","k":9.94,"E":-2.723},
{"s":"8i","k":8.64,"E":-3.624},{"s":"8i","k":9.075,"E":-3.573},{"s":"8i","k":9.575,"E":-3.442},{"s":"8i","k":9.94,"E":-3.37},
{"s":"8j","k":8.64,"E":-3.624},{"s":"8j","k":9.125,"E":-3.566},{"s":"8j","k":9.575,"E":-3.45},{"s":"8j","k":9.94,"E":-3.37},
{"s":"8k","k":8.64,"E":-3.863},{"s":"8k","k":9.075,"E":-3.849},{"s":"8k","k":9.375,"E":-3.9},{"s":"8k","k":9.575,"E":-3.958},{"s":"8k","k":9.94,"E":-4.023},
{"s":"8l","k":8.64,"E":-3.871},{"s":"8l","k":9.125,"E":-3.863},{"s":"8l","k":9.675,"E":-4.009},{"s":"8l","k":9.94,"E":-4.067},
{"s":"8m","k":8.975,"E":-5.134},{"s":"8m","k":9.045,"E":-5.004},{"s":"8m","k":9.225,"E":-4.771},{"s":"8m","k":9.405,"E":-4.648},{"s":"8m","k":9.745,"E":-4.372},{"s":"8m","k":9.94,"E":-4.314},
{"s":"8n","k":9.005,"E":-5.134},{"s":"8n","k":9.075,"E":-5.004},{"s":"8n","k":9.275,"E":-4.749},{"s":"8n","k":9.475,"E":-4.59},{"s":"8n","k":9.775,"E":-4.387},{"s":"8n","k":9.94,"E":-4.387},
{"s":"8o","k":9.035,"E":-5.134},{"s":"8o","k":9.105,"E":-5.004},{"s":"8o","k":9.305,"E":-4.771},{"s":"8o","k":9.505,"E":-4.59},{"s":"8o","k":9.775,"E":-4.372},{"s":"8o","k":9.94,"E":-4.321},
{"s":"8p","k":9.065,"E":-5.134},{"s":"8p","k":9.135,"E":-5.004},{"s":"8p","k":9.335,"E":-4.786},{"s":"8p","k":9.535,"E":-4.626},{"s":"8p","k":9.795,"E":-4.423},{"s":"8p","k":9.94,"E":-4.394},
{"s":"9a","k":9.94,"E":-1.474},{"s":"9a","k":10.405,"E":-1.467},{"s":"9a","k":10.905,"E":-1.445},{"s":"9a","k":11.21,"E":-1.445},
{"s":"9b","k":9.94,"E":-1.481},{"s":"9b","k":10.375,"E":-1.489},{"s":"9b","k":10.745,"E":-1.496},{"s":"9b","k":10.975,"E":-1.46},{"s":"9b","k":11.21,"E":-1.445},
{"s":"9c","k":9.94,"E":-1.627},{"s":"9c","k":10.405,"E":-1.627},{"s":"9c","k":10.905,"E":-1.627},{"s":"9c","k":11.21,"E":-1.627},
{"s":"9d","k":9.94,"E":-1.627},{"s":"9d","k":10.405,"E":-1.663},{"s":"9d","k":10.745,"E":-1.685},{"s":"9d","k":11.21,"E":-1.699},
{"s":"9e","k":9.94,"E":-1.932},{"s":"9e","k":10.075,"E":-1.939},{"s":"9e","k":10.405,"E":-1.845},{"s":"9e","k":10.745,"E":-1.699},{"s":"9e","k":11.21,"E":-1.699},
{"s":"9f","k":9.94,"E":-1.932},{"s":"9f","k":10.245,"E":-1.968},{"s":"9f","k":10.745,"E":-1.924},{"s":"9f","k":11.21,"E":-1.903},
{"s":"9g","k":9.94,"E":-2.426},{"s":"9g","k":10.175,"E":-2.36},{"s":"9g","k":10.405,"E":-2.229},{"s":"9g","k":10.745,"E":-2.062},{"s":"9g","k":11.005,"E":-1.946},{"s":"9g","k":11.21,"E":-1.939},
{"s":"9h","k":9.94,"E":-2.426},{"s":"9h","k":10.175,"E":-2.418},{"s":"9h","k":10.405,"E":-2.455},{"s":"9h","k":10.745,"E":-2.593},{"s":"9h","k":10.975,"E":-2.644},{"s":"9h","k":11.21,"E":-2.68},
{"s":"9i","k":9.94,"E":-2.723},{"s":"9i","k":10.245,"E":-2.68},{"s":"9i","k":10.375,"E":-2.665},{"s":"9i","k":10.605,"E":-2.498},{"s":"9i","k":10.845,"E":-2.251},{"s":"9i","k":11.005,"E":-2.135},{"s":"9i","k":11.21,"E":-2.084},
{"s":"9j","k":9.94,"E":-2.723},{"s":"9j","k":10.175,"E":-2.869},{"s":"9j","k":10.445,"E":-3.014},{"s":"9j","k":10.645,"E":-3.086},{"s":"9j","k":10.905,"E":-3.159},{"s":"9j","k":11.21,"E":-3.181},
{"s":"9k","k":9.94,"E":-3.37},{"s":"9k","k":10.075,"E":-3.297},{"s":"9k","k":10.275,"E":-3.152},{"s":"9k","k":10.445,"E":-3.028},{"s":"9k","k":10.745,"E":-2.905},{"s":"9k","k":10.975,"E":-2.788},{"s":"9k","k":11.21,"E":-2.752},
{"s":"9l","k":9.94,"E":-3.37},{"s":"9l","k":10.075,"E":-3.442},{"s":"9l","k":10.245,"E":-3.5},{"s":"9l","k":10.375,"E":-3.297},{"s":"9l","k":10.545,"E":-3.188},{"s":"9l","k":10.745,"E":-3.159},{"s":"9l","k":11.21,"E":-3.174},
{"s":"9m","k":9.94,"E":-4.023},{"s":"9m","k":10.075,"E":-3.776},{"s":"9m","k":10.245,"E":-3.537},{"s":"9m","k":10.575,"E":-3.588},{"s":"9m","k":10.875,"E":-3.551},{"s":"9m","k":11.21,"E":-3.515},
{"s":"9n","k":9.94,"E":-4.067},{"s":"9n","k":10.045,"E":-4.132},{"s":"9n","k":10.245,"E":-4.067},{"s":"9n","k":10.475,"E":-3.922},{"s":"9n","k":10.745,"E":-3.842},{"s":"9n","k":11.21,"E":-3.813},
{"s":"9o","k":9.94,"E":-4.314},{"s":"9o","k":10.145,"E":-4.459},{"s":"9o","k":10.325,"E":-4.771},{"s":"9o","k":10.405,"E":-5.004},{"s":"9o","k":10.455,"E":-5.134},
{"s":"9p","k":9.94,"E":-4.321},{"s":"9p","k":10.145,"E":-4.466},{"s":"9p","k":10.335,"E":-4.786},{"s":"9p","k":10.425,"E":-5.004},{"s":"9p","k":10.475,"E":-5.134},
{"s":"9q","k":9.94,"E":-4.387},{"s":"9q","k":10.245,"E":-4.648},{"s":"9q","k":10.525,"E":-4.829},{"s":"9q","k":10.775,"E":-5.004},{"s":"9q","k":10.925,"E":-5.134},
{"s":"9r","k":9.94,"E":-4.394},{"s":"9r","k":10.255,"E":-4.67},{"s":"9r","k":10.555,"E":-4.858},{"s":"9r","k":10.805,"E":-5.004},{"s":"9r","k":10.955,"E":-5.134},
{"s":"10a","k":11.21,"E":-1.481},{"s":"10a","k":11.575,"E":-1.467},{"s":"10a","k":12.13,"E":-1.452},
{"s":"10b","k":11.21,"E":-1.518},{"s":"10b","k":11.605,"E":-1.54},{"s":"10b","k":11.875,"E":-1.511},{"s":"10b","k":12.13,"E":-1.474},
{"s":"10c","k":11.21,"E":-1.583},{"s":"10c","k":11.405,"E":-1.598},{"s":"10c","k":11.605,"E":-1.707},{"s":"10c","k":11.845,"E":-1.663},{"s":"10c","k":12.13,"E":-1.627},
{"s":"10d","k":11.21,"E":-1.598},{"s":"10d","k":11.575,"E":-1.598},{"s":"10d","k":12.13,"E":-1.627},
{"s":"10e","k":11.21,"E":-1.845},{"s":"10e","k":11.375,"E":-1.779},{"s":"10e","k":11.575,"E":-1.743},{"s":"10e","k":11.705,"E":-1.772},{"s":"10e","k":11.905,"E":-1.866},{"s":"10e","k":12.13,"E":-1.932},
{"s":"10f","k":11.21,"E":-1.924},{"s":"10f","k":11.405,"E":-1.954},{"s":"10f","k":11.705,"E":-2.026},{"s":"10f","k":11.925,"E":-1.983},{"s":"10f","k":12.13,"E":-1.932},
{"s":"10g","k":11.21,"E":-2.302},{"s":"10g","k":11.405,"E":-2.251},{"s":"10g","k":11.575,"E":-2.157},{"s":"10g","k":11.705,"E":-2.128},{"s":"10g","k":11.905,"E":-2.251},{"s":"10g","k":12.13,"E":-2.433},
{"s":"10h","k":11.21,"E":-2.462},{"s":"10h","k":11.475,"E":-2.505},{"s":"10h","k":11.705,"E":-2.556},{"s":"10h","k":11.975,"E":-2.505},{"s":"10h","k":12.13,"E":-2.433},
{"s":"10i","k":11.21,"E":-2.578},{"s":"10i","k":11.575,"E":-2.614},{"s":"10i","k":11.875,"E":-2.665},{"s":"10i","k":12.13,"E":-2.716},
{"s":"10j","k":11.21,"E":-2.825},{"s":"10j","k":11.475,"E":-2.84},{"s":"10j","k":11.775,"E":-2.861},{"s":"10j","k":12.13,"E":-2.716},
{"s":"10k","k":11.21,"E":-3.355},{"s":"10k","k":11.405,"E":-3.384},{"s":"10k","k":11.505,"E":-3.442},{"s":"10k","k":11.655,"E":-3.537},{"s":"10k","k":11.925,"E":-3.5},{"s":"10k","k":12.13,"E":-3.377},
{"s":"10l","k":11.21,"E":-3.537},{"s":"10l","k":11.405,"E":-3.522},{"s":"10l","k":11.505,"E":-3.457},{"s":"10l","k":11.775,"E":-3.348},{"s":"10l","k":11.875,"E":-3.326},{"s":"10l","k":12.13,"E":-3.377},
{"s":"10m","k":11.21,"E":-3.696},{"s":"10m","k":11.375,"E":-3.667},{"s":"10m","k":11.605,"E":-3.631},{"s":"10m","k":11.775,"E":-3.74},{"s":"10m","k":11.975,"E":-3.936},{"s":"10m","k":12.13,"E":-4.031},
{"s":"10n","k":11.21,"E":-3.704},{"s":"10n","k":11.375,"E":-3.682},{"s":"10n","k":11.605,"E":-3.646},{"s":"10n","k":11.775,"E":-3.762},{"s":"10n","k":11.975,"E":-3.965},{"s":"10n","k":12.13,"E":-4.053},
{"s":"10o","k":11.21,"E":-3.878},{"s":"10o","k":11.575,"E":-3.972},{"s":"10o","k":11.905,"E":-4.081},{"s":"10o","k":12.025,"E":-4.067},{"s":"10o","k":12.13,"E":-4.031},
{"s":"10p","k":11.21,"E":-3.885},{"s":"10p","k":11.575,"E":-3.987},{"s":"10p","k":11.875,"E":-4.089},{"s":"10p","k":12.13,"E":-4.045},
{"s":"10q","k":11.21,"E":-4.372},{"s":"10q","k":11.575,"E":-4.321},{"s":"10q","k":11.905,"E":-4.263},{"s":"10q","k":12.13,"E":-4.357},
{"s":"10r","k":11.21,"E":-4.379},{"s":"10r","k":11.575,"E":-4.336},{"s":"10r","k":11.935,"E":-4.278},{"s":"10r","k":12.13,"E":-4.314},
{"s":"10s","k":11.575,"E":-5.134},{"s":"10s","k":11.645,"E":-5.004},{"s":"10s","k":11.775,"E":-4.808},{"s":"10s","k":11.905,"E":-4.553},{"s":"10s","k":12.025,"E":-4.423},{"s":"10s","k":12.13,"E":-4.357},
{"s":"10t","k":11.615,"E":-5.134},{"s":"10t","k":11.685,"E":-5.004},{"s":"10t","k":11.815,"E":-4.808},{"s":"10t","k":11.945,"E":-4.568},{"s":"10t","k":12.055,"E":-4.43},{"s":"10t","k":12.13,"E":-4.372},
{"s":"11a","k":12.13,"E":-1.416},{"s":"11a","k":12.575,"E":-1.394},{"s":"11a","k":13.04,"E":-1.38},
{"s":"11b","k":12.13,"E":-1.445},{"s":"11b","k":12.575,"E":-1.503},{"s":"11b","k":13.04,"E":-1.561},
{"s":"11c","k":12.13,"E":-1.481},{"s":"11c","k":12.575,"E":-1.525},{"s":"11c","k":13.04,"E":-1.576},
{"s":"11d","k":12.13,"E":-1.59},{"s":"11d","k":12.575,"E":-1.59},{"s":"11d","k":13.04,"E":-1.598},
{"s":"11e","k":12.13,"E":-1.699},{"s":"11e","k":12.575,"E":-1.736},{"s":"11e","k":13.04,"E":-1.816},
{"s":"11f","k":12.13,"E":-1.852},{"s":"11f","k":12.575,"E":-1.881},{"s":"11f","k":13.04,"E":-1.903},
{"s":"11g","k":12.13,"E":-2.353},{"s":"11g","k":12.575,"E":-2.229},{"s":"11g","k":13.04,"E":-2.128},
{"s":"11h","k":12.13,"E":-2.389},{"s":"11h","k":12.575,"E":-2.324},{"s":"11h","k":13.04,"E":-2.28},
{"s":"11i","k":12.13,"E":-2.687},{"s":"11i","k":12.405,"E":-2.556},{"s":"11i","k":12.575,"E":-2.469},{"s":"11i","k":13.04,"E":-2.353},
{"s":"11j","k":12.13,"E":-2.861},{"s":"11j","k":12.575,"E":-3.028},{"s":"11j","k":13.04,"E":-3.159},
{"s":"11k","k":12.13,"E":-3.391},{"s":"11k","k":12.575,"E":-3.319},{"s":"11k","k":13.04,"E":-3.195},
{"s":"11l","k":12.13,"E":-3.464},{"s":"11l","k":12.405,"E":-3.515},{"s":"11l","k":12.575,"E":-3.479},{"s":"11l","k":13.04,"E":-3.341},
{"s":"11m","k":12.13,"E":-3.842},{"s":"11m","k":12.405,"E":-3.704},{"s":"11m","k":12.575,"E":-3.696},{"s":"11m","k":12.775,"E":-3.74},{"s":"11m","k":13.04,"E":-3.805},
{"s":"11n","k":12.13,"E":-3.863},{"s":"11n","k":12.405,"E":-3.726},{"s":"11n","k":12.575,"E":-3.718},{"s":"11n","k":12.775,"E":-3.762},{"s":"11n","k":13.04,"E":-3.82},
{"s":"11o","k":12.13,"E":-4.168},{"s":"11o","k":12.405,"E":-4.023},{"s":"11o","k":12.745,"E":-3.9},{"s":"11o","k":13.04,"E":-3.827},
{"s":"11p","k":12.13,"E":-4.19},{"s":"11p","k":12.405,"E":-4.045},{"s":"11p","k":12.745,"E":-3.922},{"s":"11p","k":13.04,"E":-3.842},
{"s":"11q","k":12.13,"E":-4.241},{"s":"11q","k":12.405,"E":-4.357},{"s":"11q","k":12.745,"E":-4.444},{"s":"11q","k":13.04,"E":-4.495},
{"s":"11r","k":12.13,"E":-4.263},{"s":"11r","k":12.405,"E":-4.372},{"s":"11r","k":12.745,"E":-4.459},{"s":"11r","k":13.04,"E":-4.503},
{"s":"11s","k":12.13,"E":-4.387},{"s":"11s","k":12.345,"E":-4.553},{"s":"11s","k":12.475,"E":-4.771},{"s":"11s","k":12.605,"E":-5.004},{"s":"11s","k":12.675,"E":-5.134},
{"s":"11t","k":12.13,"E":-4.408},{"s":"11t","k":12.375,"E":-4.575},{"s":"11t","k":12.505,"E":-4.786},{"s":"11t","k":12.635,"E":-5.004},{"s":"11t","k":12.705,"E":-5.134},
{"s":"12a","k":13.04,"E":-1.256},{"s":"12a","k":13.405,"E":-1.285},{"s":"12a","k":13.675,"E":-1.336},{"s":"12a","k":13.94,"E":-1.431},
{"s":"12b","k":13.04,"E":-1.503},{"s":"12b","k":13.405,"E":-1.576},{"s":"12b","k":13.505,"E":-1.612},{"s":"12b","k":13.745,"E":-1.525},{"s":"12b","k":13.94,"E":-1.431},
{"s":"12c","k":13.04,"E":-1.772},{"s":"12c","k":13.405,"E":-1.67},{"s":"12c","k":13.545,"E":-1.67},{"s":"12c","k":13.745,"E":-1.736},{"s":"12c","k":13.94,"E":-1.772},
{"s":"12d","k":13.04,"E":-1.794},{"s":"12d","k":13.255,"E":-1.794},{"s":"12d","k":13.575,"E":-1.779},{"s":"12d","k":13.94,"E":-1.772},
{"s":"12e","k":13.04,"E":-1.866},{"s":"12e","k":13.405,"E":-1.939},{"s":"12e","k":13.545,"E":-2.012},{"s":"12e","k":13.745,"E":-1.975},{"s":"12e","k":13.94,"E":-1.939},
{"s":"12f","k":13.04,"E":-1.881},{"s":"12f","k":13.405,"E":-1.924},{"s":"12f","k":13.94,"E":-1.939},
{"s":"12g","k":13.04,"E":-2.229},{"s":"12g","k":13.405,"E":-2.099},{"s":"12g","k":13.575,"E":-2.084},{"s":"12g","k":13.745,"E":-2.113},{"s":"12g","k":13.94,"E":-2.157},
{"s":"12h","k":13.04,"E":-2.244},{"s":"12h","k":13.405,"E":-2.193},{"s":"12h","k":13.94,"E":-2.157},
{"s":"12i","k":13.04,"E":-2.266},{"s":"12i","k":13.405,"E":-2.374},{"s":"12i","k":13.745,"E":-2.571},{"s":"12i","k":13.94,"E":-2.723},
{"s":"12j","k":13.04,"E":-2.84},{"s":"12j","k":13.405,"E":-2.847},{"s":"12j","k":13.745,"E":-2.788},{"s":"12j","k":13.94,"E":-2.723},
{"s":"12k","k":13.04,"E":-3.195},{"s":"12k","k":13.405,"E":-3.297},{"s":"12k","k":13.745,"E":-3.515},{"s":"12k","k":13.94,"E":-3.624},
{"s":"12l","k":13.04,"E":-3.682},{"s":"12l","k":13.405,"E":-3.667},{"s":"12l","k":13.745,"E":-3.718},{"s":"12l","k":13.94,"E":-3.842},
{"s":"12m","k":13.04,"E":-3.987},{"s":"12m","k":13.405,"E":-3.922},{"s":"12m","k":13.745,"E":-3.74},{"s":"12m","k":13.94,"E":-3.624},
{"s":"12n","k":13.04,"E":-4.829},{"s":"12n","k":13.255,"E":-4.793},{"s":"12n","k":13.405,"E":-4.553},{"s":"12n","k":13.745,"E":-3.951},{"s":"12n","k":13.94,"E":-3.878}
],
"jumps": [
{"s":"z1","k":11.21,"E":-1.445},{"s":"z1","k":11.21,"E":-1.518},
{"s":"z2","k":11.21,"E":-1.583},{"s":"z2","k":11.21,"E":-1.845},
{"s":"z3","k":11.21,"E":-1.903},{"s":"z3","k":11.21,"E":-2.462},
{"s":"z4","k":11.21,"E":-2.578},{"s":"z4","k":11.21,"E":-2.68},
{"s":"z5","k":11.21,"E":-2.752},{"s":"z5","k":11.21,"E":-2.825},
{"s":"z6","k":11.21,"E":-3.174},{"s":"z6","k":11.21,"E":-3.355},
{"s":"z7","k":11.21,"E":-3.515},{"s":"z7","k":11.21,"E":-3.696},
{"s":"z8","k":11.21,"E":-3.813},{"s":"z8","k":11.21,"E":-3.878},
{"s":"z9","k":11.21,"E":-4.372},{"s":"z9","k":11.21,"E":-5.134},
{"s":"t1","k":12.13,"E":-1.416},{"s":"t1","k":12.13,"E":-1.481},
{"s":"t2","k":12.13,"E":-1.59},{"s":"t2","k":12.13,"E":-1.699},
{"s":"t3","k":12.13,"E":-1.852},{"s":"t3","k":12.13,"E":-1.932},
{"s":"t4","k":12.13,"E":-2.353},{"s":"t4","k":12.13,"E":-2.433},
{"s":"t5","k":12.13,"E":-2.694},{"s":"t5","k":12.13,"E":-2.861},
{"s":"t6","k":12.13,"E":-3.377},{"s":"t6","k":12.13,"E":-3.464},
{"s":"t7","k":12.13,"E":-3.842},{"s":"t7","k":12.13,"E":-4.053},
{"s":"t8","k":12.13,"E":-4.161},{"s":"t8","k":12.13,"E":-4.459},
{"s":"x1","k":13.04,"E":-1.256},{"s":"x1","k":13.04,"E":-1.38},
{"s":"x2","k":13.04,"E":-1.503},{"s":"x2","k":13.04,"E":-1.561},
{"s":"x3","k":13.04,"E":-1.576},{"s":"x3","k":13.04,"E":-1.794},
{"s":"x4","k":13.04,"E":-1.816},{"s":"x4","k":13.04,"E":-1.903},
{"s":"x5","k":13.04,"E":-2.128},{"s":"x5","k":13.04,"E":-2.353},
{"s":"x6","k":13.04,"E":-2.832},{"s":"x6","k":13.04,"E":-3.159},
{"s":"x7","k":13.04,"E":-3.341},{"s":"x7","k":13.04,"E":-4.829}
]
},
"resolve": {"axis": {"x": "independent", "y": "independent"}},
"layer": [
{
"data": {"name": "bands"},
"mark": {"type": "line", "color": "black", "strokeWidth": 1.4, "interpolate": "monotone", "clip": true},
"encoding": {
"x": {"field": "k", "type": "quantitative", "scale": {"domain": [0, 13.94], "nice": false, "zero": false},
"axis": {"orient": "bottom", "title": null, "values": [0, 1.31, 2.58, 3.89, 5.16, 6.07, 7.37, 8.64, 9.94, 11.21, 12.13, 13.04, 13.94],
"labelExpr": "datum.value < 0.5 ? 'Γ' : datum.value < 2 ? 'X' : datum.value < 3 ? 'S' : datum.value < 4.5 ? 'Y' : datum.value < 5.5 ? 'Γ' : datum.value < 6.5 ? 'Z' : datum.value < 8 ? 'U' : datum.value < 9 ? 'R' : datum.value < 10.5 ? 'T' : datum.value < 11.5 ? 'Z\u2003Y' : datum.value < 12.5 ? 'T\u2003U' : datum.value < 13.5 ? 'X\u2003S' : 'R'",
"grid": true, "gridDash": [3, 3], "gridColor": "#9a9a9a", "gridWidth": 1,
"tickSize": -10, "tickColor": "black", "tickWidth": 1.5,
"labelPadding": 28, "labelFontSize": 20, "labelFont": "Liberation Sans", "labelColor": "black",
"labelFlush": false, "labelOverlap": false, "labelBound": false,
"domainColor": "black", "domainWidth": 1.5}},
"y": {"field": "E", "type": "quantitative", "scale": {"domain": [-5, 2], "nice": false, "zero": false},
"axis": {"orient": "left", "title": null, "values": [-5, -4, -3, -2, -1, 0, 1, 2], "labelExpr": "'' + datum.value",
"grid": false, "tickSize": -10, "tickColor": "black", "tickWidth": 1.5,
"labelPadding": 26, "labelFontSize": 20, "labelFont": "Liberation Sans", "labelColor": "black",
"labelOverlap": false, "labelBound": false, "labelFlush": false,
"domainColor": "black", "domainWidth": 1.5}},
"detail": {"field": "s"}
}
},
{
"data": {"name": "jumps"},
"mark": {"type": "line", "color": "black", "strokeWidth": 1.4, "clip": true},
"encoding": {
"x": {"field": "k", "type": "quantitative", "scale": {"domain": [0, 13.94], "nice": false, "zero": false}, "axis": null},
"y": {"field": "E", "type": "quantitative", "scale": {"domain": [-5, 2], "nice": false, "zero": false}, "axis": null},
"detail": {"field": "s"}
}
},
{
"data": {"values": [{"E": 0}]},
"mark": {"type": "rule", "color": "#56b4e9", "strokeWidth": 1.6},
"encoding": {
"y": {"field": "E", "type": "quantitative", "scale": {"domain": [-5, 2], "nice": false, "zero": false}, "axis": null}
}
},
{
"data": {"values": [{"k": 0, "E": 0}]},
"mark": {"type": "point", "opacity": 0},
"encoding": {
"x": {"field": "k", "type": "quantitative", "scale": {"domain": [0, 13.94], "nice": false, "zero": false},
"axis": {"orient": "top", "title": null, "values": [1.31, 2.58, 3.89, 5.16, 6.07, 7.37, 8.64, 9.94, 11.21, 12.13, 13.04], "labels": false, "grid": false, "domain": false, "tickSize": -10, "tickColor": "black", "tickWidth": 1.5}},
"y": {"field": "E", "type": "quantitative", "scale": {"domain": [-5, 2], "nice": false, "zero": false},
"axis": {"orient": "right", "title": null, "values": [-4, -3, -2, -1, 0, 1], "labels": false, "grid": false, "domain": false, "tickSize": -10, "tickColor": "black", "tickWidth": 1.5}}
}
}
]
}
